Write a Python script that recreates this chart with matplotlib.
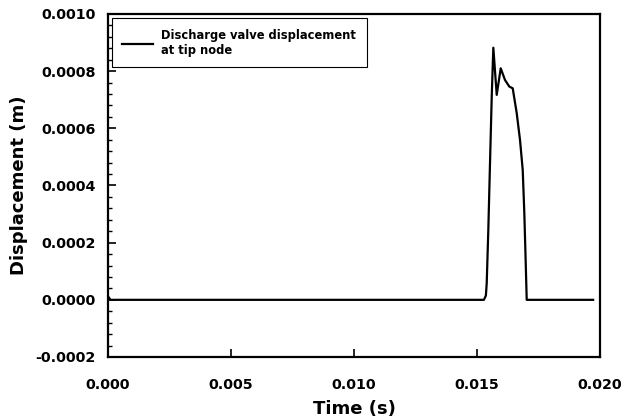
import matplotlib
matplotlib.use("Agg")
from matplotlib import pyplot as plt
from matplotlib.ticker import MultipleLocator

# valve tip displacement
time = [0.0, 0.0001, 0.0002, 0.01528, 0.01536, 0.015394, 0.015459, 0.015528, 0.015598,
        0.015663, 0.015801, 0.015963, 0.016138, 0.016313, 0.016451, 0.016614,
        0.016748, 0.016858, 0.016923, 0.01698, 0.01702, 0.01972]
disp = [0.000012, 0.0, 0.0, 0.0, 0.000015, 0.0000577, 0.000244, 0.000478, 0.000711,
        0.000882, 0.000717, 0.000810, 0.000769, 0.000746, 0.000740, 0.000653,
        0.000559, 0.000454, 0.000303, 0.000128, 0.0, 0.0]

x_ticks = [0.000, 0.005, 0.010, 0.015, 0.020]
y_ticks = [-0.0002, 0.0000, 0.0002, 0.0004, 0.0006, 0.0008, 0.0010]

plt.rcParams['font.family'] = ['DejaVu Sans']
plt.rcParams['font.weight'] = 'bold'

fig = plt.figure(figsize=(6.31, 4.2), dpi=100)
ax = fig.add_axes([0.1712, 0.15, 0.7797, 0.8167])

ax.plot(time, disp, color="black", lw=1.6, label="Discharge valve displacement\nat tip node")

ax.set_xlim(0, 0.02)
ax.set_ylim(-0.0002, 0.001)
ax.set_xticks(x_ticks)
ax.set_xticklabels(["%.3f" % v for v in x_ticks])
ax.set_yticks(y_ticks)
ax.set_yticklabels(["%.4f" % v for v in y_ticks])
ax.yaxis.set_minor_locator(MultipleLocator(0.00004))

ax.tick_params(axis="both", which="major", direction="in", length=6, width=1.2,
               labelsize=10.3, top=False, right=False)
ax.tick_params(axis="y", which="minor", direction="in", length=3, width=1, right=False)
ax.tick_params(axis="x", which="major", pad=15)
ax.tick_params(axis="y", which="major", pad=9)

for s in ax.spines.values():
    s.set_linewidth(1.6)

ax.set_xlabel("Time (s)", fontsize=13, fontweight="bold", labelpad=6)
ax.set_ylabel("Displacement (m)", fontsize=13, fontweight="bold", labelpad=5)

leg = ax.legend(loc="upper left", bbox_to_anchor=(0.0075, 0.987), borderaxespad=0,
                fancybox=False, edgecolor="black", framealpha=1,
                prop={"size": 8.3, "weight": "bold"}, handlelength=2.7,
                borderpad=0.9, handletextpad=0.7)
leg.get_frame().set_linewidth(0.8)

fig.savefig("out.png", dpi=100)
